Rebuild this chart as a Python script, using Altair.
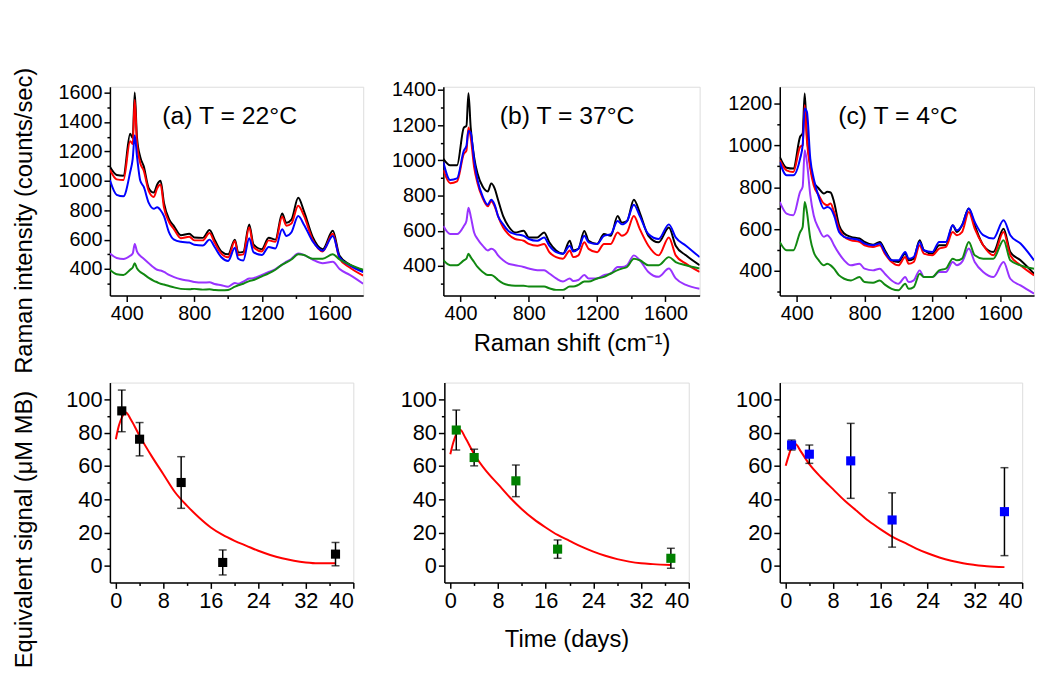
import altair as alt
import pandas as pd

FONT = "Liberation Sans"

# ---------------- Raman spectra (top row) ----------------
SHIFT = [300, 340, 380, 420, 435, 447, 460, 480, 500, 530, 560, 580, 600, 620, 650,
         680, 720, 770, 800, 850, 890, 920, 960, 1000, 1040, 1060, 1090, 1125, 1150, 1200,
         1240, 1280, 1320, 1345, 1375, 1415, 1450, 1500, 1560, 1620, 1660, 1720, 1800]

SERIES = ["black", "red", "blue", "purple", "green"]
SERIES_COLORS = ["#000000", "#ff0000", "#0000ff", "#9933ff", "#118811"]

# (a) T = 22 C
A_BLACK = [1095, 1040, 1035, 1320, 1290, 1600, 1300, 1160, 1100, 950, 920, 975, 1000, 850, 740,
           690, 630, 640, 615, 612, 665, 600, 520, 500, 600, 512, 517, 703, 568, 535,
           613, 600, 777, 714, 736, 885, 790, 620, 535, 660, 490, 430, 390]
A_RED = [1075, 1010, 1005, 1270, 1250, 1550, 1260, 1120, 1070, 930, 890, 950, 975, 820, 720,
         670, 610, 620, 595, 595, 645, 580, 505, 480, 590, 495, 500, 685, 550, 520,
         595, 585, 755, 695, 710, 830, 760, 600, 520, 640, 470, 410, 355]
A_BLUE = [1005, 905, 895, 1060, 1150, 1310, 1170, 1000, 960, 850, 810, 820, 800, 760, 650,
          600, 585, 580, 565, 560, 600, 550, 480, 455, 545, 470, 458, 610, 515, 495,
          550, 540, 670, 625, 650, 760, 700, 590, 525, 625, 480, 425, 380]
A_PURPLE = [505, 475, 468, 490, 505, 570, 520, 490, 470, 440, 410, 395, 390, 380, 360,
            345, 330, 320, 312, 308, 310, 298, 290, 280, 305, 300, 315, 335, 338, 360,
            380, 400, 430, 450, 470, 505, 495, 465, 440, 450, 400, 360, 300]
A_GREEN = [395, 365, 360, 395, 410, 440, 405, 380, 365, 340, 320, 310, 300, 295, 285,
           275, 265, 262, 265, 260, 262, 258, 255, 258, 280, 290, 300, 318, 325, 350,
           370, 395, 430, 445, 465, 500, 495, 470, 470, 500, 465, 430, 395]

# (b) T = 37 C
B_BLACK = [1009, 972, 972, 1186, 1195, 1381, 1186, 1018, 925, 851, 823, 869, 841, 776, 683,
           627, 590, 600, 562, 562, 590, 534, 488, 469, 543, 488, 497, 599, 543, 525,
           581, 571, 683, 646, 655, 776, 702, 571, 534, 618, 515, 460, 404]
B_RED = [944, 870, 880, 1037, 1055, 1186, 1130, 962, 870, 785, 739, 767, 739, 683, 618,
         581, 553, 543, 525, 515, 525, 478, 450, 441, 488, 450, 460, 534, 497, 478,
         525, 525, 590, 571, 590, 683, 609, 515, 460, 562, 460, 413, 366]
B_BLUE = [990, 888, 897, 1055, 1083, 1167, 1158, 1000, 888, 795, 748, 776, 748, 683, 636,
          599, 581, 571, 553, 543, 562, 515, 478, 469, 515, 482, 497, 571, 534, 525,
          571, 581, 655, 636, 655, 748, 683, 581, 553, 636, 562, 515, 450]
B_PURPLE = [627, 581, 581, 627, 655, 730, 683, 590, 553, 515, 488, 497, 488, 460, 432,
            413, 404, 394, 385, 376, 376, 357, 329, 311, 329, 314, 320, 348, 329, 329,
            348, 357, 394, 394, 404, 460, 432, 366, 338, 385, 329, 292, 270]
B_GREEN = [432, 404, 404, 432, 441, 469, 450, 422, 394, 366, 348, 348, 338, 320, 301,
           292, 288, 288, 283, 283, 283, 273, 264, 264, 283, 283, 292, 311, 311, 329,
           338, 357, 376, 385, 394, 441, 432, 404, 404, 450, 422, 404, 385]

# (c) T = 4 C
C_BLACK = [945, 893, 889, 1041, 1057, 1248, 1049, 905, 826, 794, 770, 778, 775, 730, 618,
           579, 563, 555, 539, 526, 539, 499, 451, 443, 483, 451, 459, 547, 499, 483,
           523, 523, 618, 586, 618, 698, 618, 523, 491, 602, 491, 451, 387]
C_RED = [929, 881, 873, 993, 1001, 1192, 1025, 889, 810, 762, 722, 714, 722, 682, 602,
         563, 547, 539, 523, 515, 523, 483, 443, 427, 467, 435, 443, 523, 483, 475,
         507, 515, 586, 571, 586, 682, 602, 523, 475, 586, 475, 427, 379]
C_BLUE = [921, 857, 857, 937, 1001, 1176, 1160, 937, 842, 754, 698, 706, 698, 666, 586,
          563, 555, 547, 531, 523, 531, 491, 451, 451, 491, 459, 467, 539, 499, 491,
          539, 539, 618, 594, 618, 698, 634, 571, 555, 642, 571, 531, 451]
C_PURPLE = [730, 674, 666, 778, 802, 977, 921, 762, 666, 602, 563, 571, 555, 523, 483,
            451, 427, 435, 411, 403, 411, 387, 355, 339, 371, 347, 355, 403, 371, 371,
            395, 395, 443, 427, 443, 507, 443, 395, 371, 443, 363, 331, 292]
C_GREEN = [539, 499, 499, 586, 610, 730, 682, 555, 491, 451, 427, 435, 427, 411, 379,
           363, 355, 371, 347, 344, 355, 335, 315, 308, 339, 315, 323, 387, 371, 371,
           403, 411, 459, 451, 459, 539, 475, 459, 459, 547, 451, 427, 411]

PANEL_LABELS = ["(a) T = 22°C", "(b) T = 37°C", "(c) T = 4°C"]

# ---------------- Equivalent signal vs time (bottom row) ----------------
DAYS = [1, 4, 11, 18, 37]
MEAN_A = [93, 76, 50, 2, 7]
ERR_A = [12.5, 10, 15.5, 7.5, 7]
MEAN_B = [81.5, 65, 51, 10, 4.5]
ERR_B = [12, 5, 9.5, 5.5, 6]
MEAN_C = [72.5, 67, 63, 27.5, 32.5]
ERR_C = [3, 5.5, 22.5, 16.3, 26.4]
POINT_COLORS = ["#000000", "#008000", "#0000ff"]

FIT_DAYS = [0, 0.5, 1, 1.7, 2.5, 4, 6, 8, 10, 12, 14, 16, 18, 20, 22, 24, 26, 28, 30, 32, 34, 37]
FIT_A = [76, 84, 89, 92, 88, 78, 66, 55, 44, 36, 29, 23, 18.5, 15, 12, 9, 6.5, 4.5, 3, 2, 1.5, 1.5]
FIT_B = [67, 74, 79, 81.5, 77, 67, 57, 49, 41, 34, 28, 23, 18.5, 15, 11.5, 8.5, 6, 4, 2.5, 1.5, 1, 0.5]
FIT_C = [60, 66, 71, 73, 69, 61, 53, 46, 39, 33, 27, 22, 17.5, 14, 10.5, 7.5, 5, 3, 1.5, 0.5, -0.3, -0.8]


def make_axis(values, major_test, label_size, title=None, title_padding=None, title_y=None):
    kw = dict(
        values=values,
        format="d",
        labelExpr=f"({major_test}) ? datum.label : ''",
        tickSize={"condition": {"test": major_test, "value": 6}, "value": 3},
        grid=False,
        domainColor="black", domainWidth=1.5,
        tickColor="black", tickWidth=1.5,
        labelFont=FONT, labelFontSize=label_size, labelColor="black", labelPadding=2,
        labelOverlap=False,
        titleFont=FONT, titleFontSize=24, titleFontWeight="normal", titleColor="black",
        title=title,
    )
    if title_padding is not None:
        kw["titlePadding"] = title_padding
    if title_y is not None:
        kw["titleY"] = title_y
    return alt.Axis(**kw)


def spectra_panel(cols, ydom, yvals, label, label_x, xtitle=None, ytitle=None, width=256):
    rows = []
    for name, vals in zip(SERIES, cols):
        for s, v in zip(SHIFT, vals):
            rows.append({"shift": s, "I": v, "series": name})
    df = pd.DataFrame(rows)
    xaxis = make_axis([400, 600, 800, 1000, 1200, 1400, 1600], "datum.value % 400 === 0", 20,
                      title=xtitle, title_padding=9)
    yaxis = make_axis(yvals, "datum.value % 200 === 0", 20, title=ytitle,
                      title_padding=22, title_y=135)
    lines = alt.Chart(df).mark_line(strokeWidth=2, clip=True, interpolate="monotone").encode(
        x=alt.X("shift:Q", scale=alt.Scale(domain=[300, 1800], nice=False, zero=False), axis=xaxis),
        y=alt.Y("I:Q", scale=alt.Scale(domain=ydom, nice=False, zero=False), axis=yaxis),
        color=alt.Color("series:N", scale=alt.Scale(domain=SERIES, range=SERIES_COLORS), legend=None),
    )
    txt = alt.Chart(pd.DataFrame({"t": [label]})).mark_text(
        align="left", baseline="alphabetic", font=FONT, fontSize=25, color="black"
    ).encode(x=alt.value(label_x), y=alt.value(38), text="t:N")
    return alt.layer(lines, txt).properties(width=width, height=211)


def decay_panel(means, errs, fit, color, xtitle=None, ytitle=None, width=246):
    pts = pd.DataFrame({
        "day": DAYS,
        "mean": means,
        "lo": [m - e for m, e in zip(means, errs)],
        "hi": [m + e for m, e in zip(means, errs)],
    })
    fit_df = pd.DataFrame({"day": FIT_DAYS, "val": fit})
    xaxis = make_axis(list(range(0, 41, 4)), "datum.value % 8 === 0", 22,
                      title=xtitle, title_padding=17)
    yaxis = make_axis(list(range(0, 101, 10)), "datum.value % 20 === 0", 22,
                      title=ytitle, title_padding=30, title_y=148)
    xs = alt.Scale(domain=[-1, 40], nice=False, zero=False)
    ys = alt.Scale(domain=[-10, 110], nice=False, zero=False)

    def X():
        return alt.X("day:Q", scale=xs, axis=xaxis)

    fit_line = alt.Chart(fit_df).mark_line(color="#ff0000", strokeWidth=2, interpolate="monotone").encode(
        x=X(), y=alt.Y("val:Q", scale=ys, axis=yaxis))
    bars = alt.Chart(pts).mark_rule(color="black", strokeWidth=1.5).encode(
        x=X(), y=alt.Y("lo:Q", scale=ys, axis=yaxis), y2="hi:Q")
    cap_lo = alt.Chart(pts).mark_tick(orient="horizontal", size=8, thickness=1.5, color="black").encode(
        x=X(), y=alt.Y("lo:Q", scale=ys, axis=yaxis))
    cap_hi = alt.Chart(pts).mark_tick(orient="horizontal", size=8, thickness=1.5, color="black").encode(
        x=X(), y=alt.Y("hi:Q", scale=ys, axis=yaxis))
    sq = alt.Chart(pts).mark_square(size=85, color=color, opacity=1).encode(
        x=X(), y=alt.Y("mean:Q", scale=ys, axis=yaxis))
    return alt.layer(fit_line, bars, cap_lo, cap_hi, sq).properties(width=width, height=202)


top_a = spectra_panel([A_BLACK, A_RED, A_BLUE, A_PURPLE, A_GREEN], [220, 1640],
                      list(range(300, 1601, 100)), PANEL_LABELS[0], 53,
                      ytitle="Raman intensity (counts/sec)", width=256)
top_b = spectra_panel([B_BLACK, B_RED, B_BLUE, B_PURPLE, B_GREEN], [232, 1418],
                      list(range(300, 1401, 100)), PANEL_LABELS[1], 57,
                      xtitle="Raman shift (cm⁻¹)", width=259)
top_c = spectra_panel([C_BLACK, C_RED, C_BLUE, C_PURPLE, C_GREEN], [283, 1280],
                      list(range(300, 1201, 100)), PANEL_LABELS[2], 59, width=257)

bot_a = decay_panel(MEAN_A, ERR_A, FIT_A, POINT_COLORS[0], ytitle="Equivalent signal (μM MB)", width=246)
bot_b = decay_panel(MEAN_B, ERR_B, FIT_B, POINT_COLORS[1], xtitle="Time (days)", width=247)
bot_c = decay_panel(MEAN_C, ERR_C, FIT_C, POINT_COLORS[2], width=245)

top_row = alt.hconcat(top_a, top_b, top_c, spacing=81, bounds="flush")
bot_row = alt.hconcat(bot_a, bot_b, bot_c, spacing=92, bounds="flush")

chart = alt.vconcat(top_row, bot_row, spacing=7).properties(
    padding={"left": 3, "top": 55, "right": 5, "bottom": 5}
).configure_view(stroke=None).configure(background="white")

chart.save("out.html", embed_options={"renderer": "svg", "actions": False})
